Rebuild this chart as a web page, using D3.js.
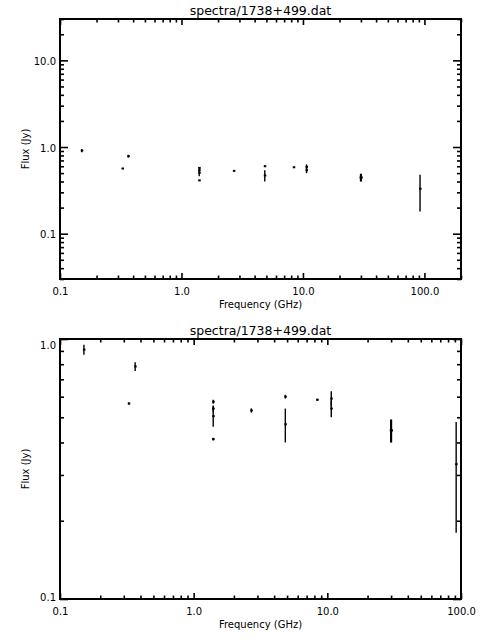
<!DOCTYPE html>
<html>
<head>
<meta charset="utf-8">
<script src="https://cdn.jsdelivr.net/npm/d3@7"></script>
<style>
  html, body { margin: 0; padding: 0; background: #fff; }
  svg { display: block; }
  text { font-family: "DejaVu Sans", sans-serif; fill: #000; }
</style>
</head>
<body>
<div id="chart"></div>
<script>
// ---- data ----
const titleText = "spectra/1738+499.dat";
const xTitle = "Frequency (GHz)";
const yTitle = "Flux (Jy)";

const freqGHz = [0.151, 0.327, 0.365, 1.4, 1.4, 1.4, 1.4, 2.7, 4.85, 4.85, 8.4, 10.7, 10.7, 29.8, 30.2, 92];
const fluxJy  = [0.91, 0.565, 0.784, 0.574, 0.54, 0.505, 0.412, 0.531, 0.60, 0.47, 0.584, 0.59, 0.54, 0.445, 0.445, 0.33];
const errJy   = [0.04, 0.005, 0.03, 0.01, 0.015, 0.045, 0.005, 0.01, 0.01, 0.07, 0.005, 0.04, 0.04, 0.045, 0.045, 0.15];

const xDomainTop = [0.1, 200];
const yDomainTop = [0.03, 30];
const xDomainBottom = [0.1, 100];
const yDomainBottom = [0.1, 1.0];

const xMajorTicks = [0.1, 1, 10, 100];
const xMajorLabels = ["0.1", "1.0", "10.0", "100.0"];
const yMajorTicksTop = [0.1, 1, 10];
const yMajorLabelsTop = ["0.1", "1.0", "10.0"];
const yMajorTicksBottom = [0.1, 1];
const yMajorLabelsBottom = ["0.1", "1.0"];

const data = freqGHz.map((f, i) => ({ f, v: fluxJy[i], e: errJy[i] }));

// ---- drawing ----
const W = 480, H = 640;
const svg = d3.select("#chart").append("svg").attr("width", W).attr("height", H);

function panel(cfg) {
  const { left, right, top, bottom, xDom, yDom, yTicks, yLabels } = cfg;
  const x = d3.scaleLog().domain(xDom).range([left, right]);
  const y = d3.scaleLog().domain(yDom).range([bottom, top]);
  const g = svg.append("g");

  const xMinor = x.ticks().filter(t => !xMajorTicks.some(m => Math.abs(m - t) / m < 1e-6));
  const yMinor = y.ticks().filter(t => !yTicks.some(m => Math.abs(m - t) / m < 1e-6));
  const xMaj = xMajorTicks.filter(t => t >= xDom[0] - 1e-9 && t <= xDom[1] + 1e-9);
  const xLab = xMajorLabels.filter((_, i) => xMajorTicks[i] >= xDom[0] - 1e-9 && xMajorTicks[i] <= xDom[1] + 1e-9);

  function styleAxis(sel) {
    sel.select(".domain").remove();
    sel.selectAll(".tick line").attr("stroke", "#000").attr("stroke-width", 1.6);
    sel.selectAll("text").attr("font-size", 10).attr("font-family", "DejaVu Sans, sans-serif").attr("fill", "#000");
  }

  // bottom axis: majors with labels
  g.append("g").attr("transform", `translate(0,${bottom})`)
    .call(d3.axisBottom(x).tickValues(xMaj).tickSize(-6).tickPadding(9).tickFormat((d, i) => xLab[i]))
    .call(styleAxis);
  g.append("g").attr("transform", `translate(0,${bottom})`)
    .call(d3.axisBottom(x).tickValues(xMinor).tickSize(-3.5).tickFormat(""))
    .call(styleAxis);
  // top axis
  g.append("g").attr("transform", `translate(0,${top})`)
    .call(d3.axisTop(x).tickValues(xMaj).tickSize(-6).tickFormat(""))
    .call(styleAxis);
  g.append("g").attr("transform", `translate(0,${top})`)
    .call(d3.axisTop(x).tickValues(xMinor).tickSize(-3.5).tickFormat(""))
    .call(styleAxis);
  // left axis
  const la = g.append("g").attr("transform", `translate(${left},0)`)
    .call(d3.axisLeft(y).tickValues(yTicks).tickSize(-8).tickPadding(4).tickFormat((d, i) => yLabels[i]))
    .call(styleAxis);
  la.selectAll(".tick text").attr("dy", function (d) {
    const py = y(d);
    if (py - top < 5) return "0.95em";
    if (bottom - py < 5) return "0.12em";
    return "0.42em";
  });
  g.append("g").attr("transform", `translate(${left},0)`)
    .call(d3.axisLeft(y).tickValues(yMinor).tickSize(-4).tickFormat(""))
    .call(styleAxis);
  // right axis
  g.append("g").attr("transform", `translate(${right},0)`)
    .call(d3.axisRight(y).tickValues(yTicks).tickSize(-8).tickFormat(""))
    .call(styleAxis);
  g.append("g").attr("transform", `translate(${right},0)`)
    .call(d3.axisRight(y).tickValues(yMinor).tickSize(-4).tickFormat(""))
    .call(styleAxis);

  // frame
  g.append("rect").attr("x", left).attr("y", top).attr("width", right - left).attr("height", bottom - top)
    .attr("fill", "none").attr("stroke", "#000").attr("stroke-width", 2);

  // error bars
  const pts = data.filter(d => d.f >= xDom[0] && d.f <= xDom[1]);
  g.append("g").selectAll("line").data(pts).join("line")
    .attr("x1", d => x(d.f)).attr("x2", d => x(d.f))
    .attr("y1", d => Math.max(top, y(d.v + d.e)))
    .attr("y2", d => Math.min(bottom, y(Math.max(d.v - d.e, yDom[0]))))
    .attr("stroke", "#000").attr("stroke-width", 1.4);
  // markers
  g.append("g").selectAll("rect").data(pts).join("rect")
    .attr("x", d => x(d.f) - 1).attr("y", d => y(d.v) - 1)
    .attr("width", 2.5).attr("height", 2).attr("fill", "#000");

  // titles
  g.append("text").attr("x", (left + right) / 2).attr("y", top - 4.5)
    .attr("text-anchor", "middle").attr("font-size", 12.5).text(titleText);
  g.append("text").attr("x", (left + right) / 2).attr("y", bottom + 28.5)
    .attr("text-anchor", "middle").attr("font-size", 10).text(xTitle);
  g.append("text").attr("transform", `translate(29,${(top + bottom) / 2}) rotate(-90)`)
    .attr("text-anchor", "middle").attr("font-size", 10).text(yTitle);
}

panel({ left: 60, right: 461, top: 19, bottom: 279, xDom: xDomainTop, yDom: yDomainTop,
        yTicks: yMajorTicksTop, yLabels: yMajorLabelsTop });
panel({ left: 60, right: 461, top: 339, bottom: 599, xDom: xDomainBottom, yDom: yDomainBottom,
        yTicks: yMajorTicksBottom, yLabels: yMajorLabelsBottom });
</script>
</body>
</html>
